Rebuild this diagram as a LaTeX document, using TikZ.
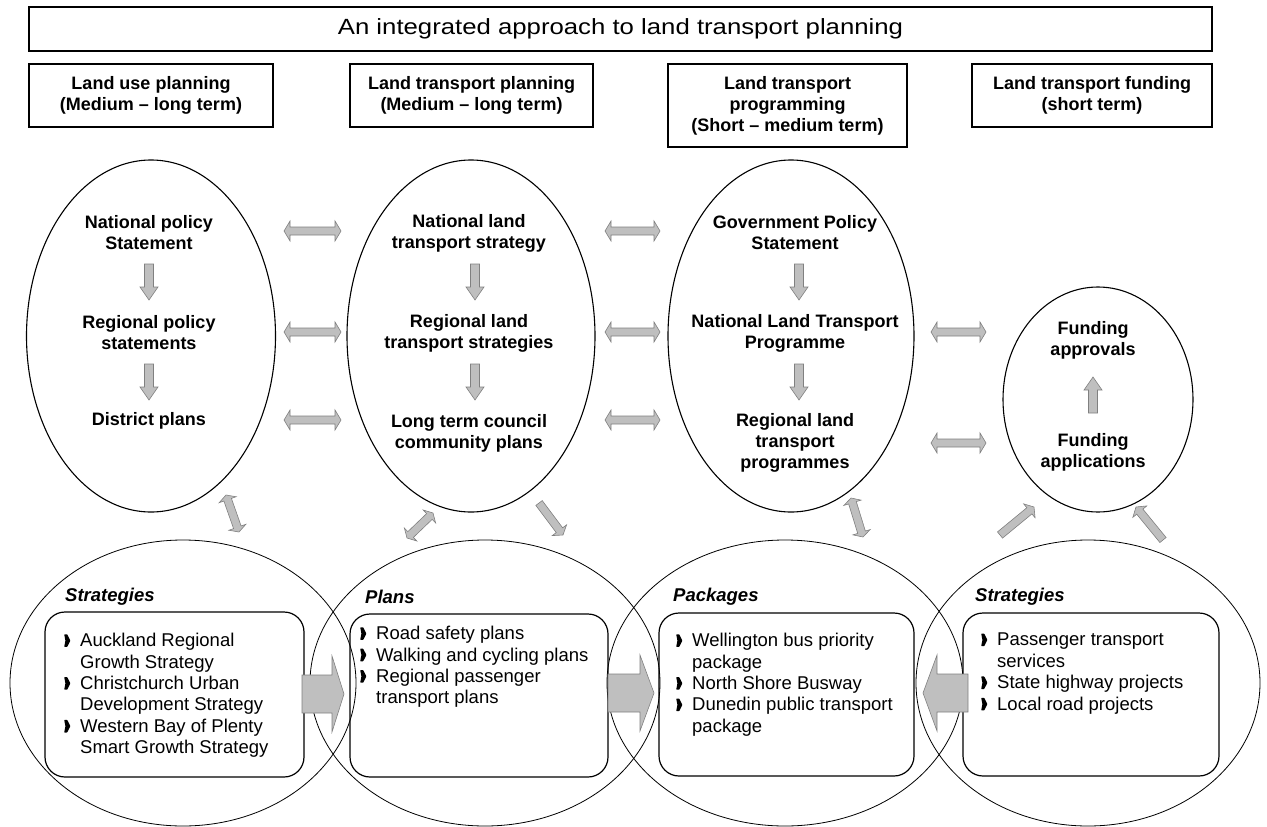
\documentclass[tikz,border=0pt]{standalone}
\usepackage{fontspec}
\setmainfont{Liberation Sans}
\usepackage{graphicx}
\usetikzlibrary{calc,shapes.geometric}

% list bullet and hanging indent
\newcommand\bul{\makebox[16pt][l]{\tikz[x=1pt,y=1pt,baseline=0pt]\fill[rounded corners=0.5pt] (0,-0.3) -- (3,-0.3) -- (6.2,6) -- (3,12.3) -- (0,12.3) -- (1.2,6) -- cycle;}}
\newcommand\ind{\hspace*{16pt}}

% grey block arrow with a head at each end: ends, shaft half-width, head half-width, head length
\newcommand\twoway[5]{%
  \filldraw[blockarrow] (#1)
    -- ($(#1)!#5!(#2)!#4!90:(#2)$)
    -- ($(#1)!#5!(#2)!#3!90:(#2)$)
    -- ($(#2)!#5!(#1)!#3!270:(#1)$)
    -- ($(#2)!#5!(#1)!#4!270:(#1)$)
    -- (#2)
    -- ($(#2)!#5!(#1)!#4!90:(#1)$)
    -- ($(#2)!#5!(#1)!#3!90:(#1)$)
    -- ($(#1)!#5!(#2)!#3!270:(#2)$)
    -- ($(#1)!#5!(#2)!#4!270:(#2)$)
    -- cycle;}
% grey block arrow with its head at the second end
\newcommand\oneway[5]{%
  \filldraw[blockarrow] ($(#1)!#3!90:(#2)$)
    -- ($(#2)!#5!(#1)!#3!270:(#1)$)
    -- ($(#2)!#5!(#1)!#4!270:(#1)$)
    -- (#2)
    -- ($(#2)!#5!(#1)!#4!90:(#1)$)
    -- ($(#2)!#5!(#1)!#3!90:(#1)$)
    -- ($(#1)!#3!270:(#2)$)
    -- cycle;}

\begin{document}
\begin{tikzpicture}[x=1pt,y=-1pt,
  frame/.style={draw, line width=1.2pt, inner sep=0pt, align=center,
                font=\fontsize{18}{21}\selectfont\bfseries},
  bold/.style={font=\fontsize{18}{21}\selectfont\bfseries, align=center, inner sep=0pt},
  oval/.style={draw, ellipse, line width=1.1pt, inner sep=0pt},
  ring/.style={draw, ellipse, line width=0.8pt, inner sep=0pt},
  listbox/.style={draw, rounded corners=20pt, line width=1.2pt, inner sep=0pt},
  listtext/.style={font=\fontsize{18.5}{21.4}\selectfont, align=left, inner sep=0pt, anchor=north west},
  tag/.style={font=\fontsize{18.5}{21}\selectfont\bfseries\itshape, inner sep=0pt, anchor=west},
  blockarrow/.style={fill=gray!50, draw=gray, line width=0.6pt}]
\useasboundingbox (0,0) rectangle (1267,827);

% heading row
\node[draw, line width=1.2pt, inner sep=0pt, minimum width=1183, minimum height=44] (title) at (620.5,29)
  {\fontsize{22}{26}\selectfont\scalebox{1.17}[1]{An integrated approach to land transport planning}};
\node[frame, minimum width=244, minimum height=63] (h1) at (151,95.5) {Land use planning\\(Medium -- long term)};
\node[frame, minimum width=243, minimum height=63] (h2) at (471.5,95.5) {Land transport planning\\(Medium -- long term)};
\node[frame, minimum width=239, minimum height=83] (h3) at (787.5,105.5) {Land transport\\programming\\(Short -- medium term)};
\node[frame, minimum width=240, minimum height=63] (h4) at (1092,95.5) {Land transport funding\\(short term)};

% upper ovals
\node[oval, minimum width=249, minimum height=352] (e1) at (151,336) {};
\node[oval, minimum width=248, minimum height=352] (e2) at (471,336) {};
\node[oval, minimum width=246, minimum height=352] (e3) at (791,336) {};
\node[oval, minimum width=190, minimum height=225] (e4) at (1098,399.5) {};

\node[bold] (t11) at (149,233) {National policy\\Statement};
\node[bold] (t12) at (149,333) {Regional policy\\statements};
\node[bold] (t13) at (149,421) {District plans};
\node[bold] (t21) at (469,233) {National land\\transport strategy};
\node[bold] (t22) at (469,333) {Regional land\\transport strategies};
\node[bold] (t23) at (469,433) {Long term council\\community plans};
\node[bold] (t31) at (795,233) {Government Policy\\Statement};
\node[bold] (t32) at (795,333) {National Land Transport\\Programme};
\node[bold] (t33) at (795,443) {Regional land\\transport\\programmes};
\node[bold] (t41) at (1093,340) {Funding\\approvals};
\node[bold] (t42) at (1093,452) {Funding\\applications};

% lower rings
\node[ring, minimum width=346, minimum height=286] (c1) at (183,683) {};
\node[ring, minimum width=350, minimum height=286] (c2) at (485,683) {};
\node[ring, minimum width=356, minimum height=286] (c3) at (785,683) {};
\node[ring, minimum width=344, minimum height=286] (c4) at (1088,683) {};

\node[tag] (g1) at (65,597) {Strategies};
\node[tag] (g2) at (365,597) {Plans};
\node[tag] (g3) at (673,597) {Packages};
\node[tag] (g4) at (975,597) {Strategies};

\node[listbox, minimum width=259, minimum height=165] (b1) at (174.5,694.5) {};
\node[listbox, minimum width=258, minimum height=163] (b2) at (479,695.5) {};
\node[listbox, minimum width=255, minimum height=163] (b3) at (786.5,694.5) {};
\node[listbox, minimum width=256, minimum height=163] (b4) at (1091,694.5) {};

\node[listtext] (l1) at (64,633) {\bul Auckland Regional\\\ind Growth Strategy\\\bul Christchurch Urban\\\ind Development Strategy\\\bul Western Bay of Plenty\\\ind Smart Growth Strategy};
\node[listtext] (l2) at (360,626) {\bul Road safety plans\\\bul Walking and cycling plans\\\bul Regional passenger\\\ind transport plans};
\node[listtext] (l3) at (676,633) {\bul Wellington bus priority\\\ind package\\\bul North Shore Busway\\\bul Dunedin public transport\\\ind package};
\node[listtext] (l4) at (981,633) {\bul Passenger transport\\\ind services\\\bul State highway projects\\\bul Local road projects};

% arrow end points
\coordinate (d11) at (149,264); \coordinate (d12) at (149,300);
\coordinate (d13) at (149,364); \coordinate (d14) at (149,400);
\coordinate (d21) at (475,264); \coordinate (d22) at (475,300);
\coordinate (d23) at (475,364); \coordinate (d24) at (475,400);
\coordinate (d31) at (799,264); \coordinate (d32) at (799,300);
\coordinate (d33) at (799,364); \coordinate (d34) at (799,400);
\coordinate (u41) at (1093,413); \coordinate (u42) at (1093,377);

\coordinate (p1a) at (284,231); \coordinate (p1b) at (341,231);
\coordinate (p2a) at (284,332); \coordinate (p2b) at (341,332);
\coordinate (p3a) at (284,420); \coordinate (p3b) at (341,420);
\coordinate (q1a) at (605,231); \coordinate (q1b) at (660,231);
\coordinate (q2a) at (605,332); \coordinate (q2b) at (660,332);
\coordinate (q3a) at (605,420); \coordinate (q3b) at (660,420);
\coordinate (r1a) at (931,332); \coordinate (r1b) at (986,332);
\coordinate (r2a) at (931,443); \coordinate (r2b) at (986,443);

\coordinate (s1a) at (226,495); \coordinate (s1b) at (239,532);
\coordinate (s2a) at (433,513); \coordinate (s2b) at (407,538);
\coordinate (s3a) at (539,503); \coordinate (s3b) at (563,535);
\coordinate (s4a) at (851,498); \coordinate (s4b) at (863,537);
\coordinate (s5a) at (1000,535); \coordinate (s5b) at (1034,507);
\coordinate (s6a) at (1163,540); \coordinate (s6b) at (1136,507);

\coordinate (k1a) at (302,694); \coordinate (k1b) at (344,694);
\coordinate (k2a) at (608,693); \coordinate (k2b) at (654,693);
\coordinate (k3a) at (968,693); \coordinate (k3b) at (923,693);

% arrows inside the ovals
\oneway{d11}{d12}{4.5pt}{9pt}{13pt}
\oneway{d13}{d14}{4.5pt}{9pt}{13pt}
\oneway{d21}{d22}{4.5pt}{9pt}{13pt}
\oneway{d23}{d24}{4.5pt}{9pt}{13pt}
\oneway{d31}{d32}{4.5pt}{9pt}{13pt}
\oneway{d33}{d34}{4.5pt}{9pt}{13pt}
\oneway{u41}{u42}{4.5pt}{9pt}{13pt}

% links between the ovals
\twoway{p1a}{p1b}{4pt}{10pt}{6pt}
\twoway{p2a}{p2b}{4pt}{10pt}{6pt}
\twoway{p3a}{p3b}{4pt}{10pt}{6pt}
\twoway{q1a}{q1b}{4pt}{10pt}{6pt}
\twoway{q2a}{q2b}{4pt}{10pt}{6pt}
\twoway{q3a}{q3b}{4pt}{10pt}{6pt}
\twoway{r1a}{r1b}{4pt}{10pt}{6pt}
\twoway{r2a}{r2b}{4pt}{10pt}{6pt}

% links between the ovals and the rings
\twoway{s1a}{s1b}{4pt}{9pt}{5pt}
\twoway{s2a}{s2b}{4pt}{9pt}{5pt}
\oneway{s3a}{s3b}{4pt}{9pt}{6pt}
\twoway{s4a}{s4b}{4pt}{9pt}{5pt}
\oneway{s5a}{s5b}{4pt}{9pt}{6pt}
\oneway{s6a}{s6b}{4pt}{9pt}{6pt}

% wide arrows between the list boxes
\oneway{k1a}{k1b}{19pt}{38pt}{12pt}
\oneway{k2a}{k2b}{19pt}{38pt}{14pt}
\oneway{k3a}{k3b}{19pt}{38pt}{14pt}
\end{tikzpicture}
\end{document}
